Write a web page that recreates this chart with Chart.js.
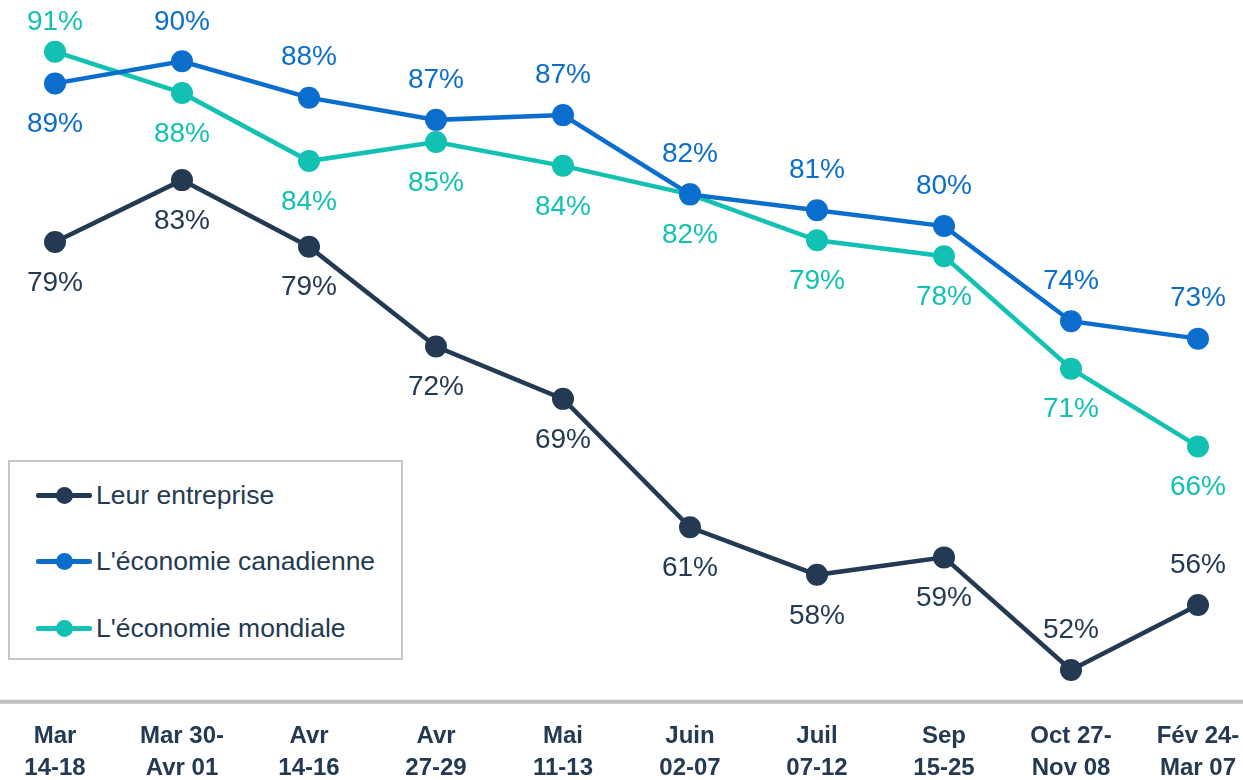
<!DOCTYPE html>
<html>
<head>
<meta charset="utf-8">
<script src="https://cdn.jsdelivr.net/npm/chart.js@4/dist/chart.umd.min.js"></script>
<style>
  body { margin: 0; overflow: hidden; background: #fff; }
  #wrap { position: relative; width: 1320px; height: 780px; overflow: hidden; }
  #legend {
    position: absolute; left: 8px; top: 460px; width: 391px; height: 196px;
    border: 2px solid #c6c6c6; background: #fff;
    font-family: "Liberation Sans", Arial, sans-serif; font-size: 26.5px; color: #233a52;
  }
  .item { position: absolute; left: 26px; height: 30px; display: flex; align-items: center; }
  .sym { position: relative; width: 56px; height: 30px; margin-right: 4px; }
  .sym .ln { position: absolute; left: 0; right: 0; top: 13px; height: 5px; border-radius: 2px; }
  .sym .dt { position: absolute; left: 20px; top: 7px; width: 17px; height: 17px; border-radius: 50%; }
</style>
</head>
<body>
<div id="wrap">
  <canvas id="chart" width="1320" height="803"></canvas>
  <div id="legend"></div>
</div>
<script>
// categories (two-line labels)
const categories = [
  ["Mar", "14-18"],
  ["Mar 30-", "Avr 01"],
  ["Avr", "14-16"],
  ["Avr", "27-29"],
  ["Mai", "11-13"],
  ["Juin", "02-07"],
  ["Juil", "07-12"],
  ["Sep", "15-25"],
  ["Oct 27-", "Nov 08"],
  ["Fév 24-", "Mar 07"],
];

const seriesNames = ["Leur entreprise", "L'économie canadienne", "L'économie mondiale"];

const leurEntreprise = [79.0, 82.9, 78.7, 72.4, 69.1, 61.0, 58.0, 59.1, 52.0, 56.1];
const economieCanadienne = [89.0, 90.4, 88.1, 86.7, 87.0, 82.0, 81.0, 80.0, 74.0, 72.9];
const economieMondiale = [91.0, 88.4, 84.1, 85.3, 83.8, 82.0, 79.1, 78.1, 71.0, 66.1];

// where each value label sits relative to its point
const sideLeur = ["below", "below", "below", "below", "below", "below", "below", "below", "above", "above"];
const sideCanadienne = ["below", "above", "above", "above", "above", "above", "above", "above", "above", "above"];
const sideMondiale = ["above", "below", "below", "below", "below", "below", "below", "below", "below", "below"];

const colors = ["#233a52", "#0b6dcc", "#12c1b2"];

const FONT = '"Liberation Sans", Arial, sans-serif';

// full-width grey baseline
const baseLine = {
  id: "baseLine",
  beforeDatasetsDraw(chart) {
    const c = chart.ctx;
    const y = chart.chartArea.bottom;
    c.save();
    c.strokeStyle = "#c0c0c0";
    c.lineWidth = 4;
    c.beginPath();
    c.moveTo(0, y);
    c.lineTo(chart.width, y);
    c.stroke();
    c.restore();
  },
};

// value labels above / below points
const valueLabels = {
  id: "valueLabels",
  afterDatasetsDraw(chart) {
    const c = chart.ctx;
    c.save();
    c.font = "28px " + FONT;
    c.textAlign = "center";
    c.textBaseline = "middle";
    chart.data.datasets.forEach((ds, i) => {
      const meta = chart.getDatasetMeta(i);
      c.fillStyle = ds.borderColor;
      meta.data.forEach((pt, j) => {
        const off = ds.sides[j] === "above" ? -40 : 41;
        const y = Math.max(22, pt.y + off);
        c.fillText(Math.round(ds.data[j]) + "%", pt.x, y);
      });
    });
    c.restore();
  },
};

const ctx = document.getElementById("chart").getContext("2d");

const allData = [leurEntreprise, economieCanadienne, economieMondiale];
const allSides = [sideLeur, sideCanadienne, sideMondiale];

const chart = new Chart(ctx, {
  type: "line",
  data: {
    labels: categories,
    datasets: allData.map((d, i) => ({
      label: seriesNames[i],
      data: d,
      sides: allSides[i],
      borderColor: colors[i],
      backgroundColor: colors[i],
      pointBackgroundColor: colors[i],
      pointBorderWidth: 0,
      pointRadius: 11,
      borderWidth: 4.5,
      tension: 0,
      clip: false,
    })),
  },
  options: {
    responsive: false,
    animation: false,
    layout: { padding: { left: 55, right: 122, top: 20, bottom: 0 } },
    plugins: {
      legend: { display: false },
      tooltip: { enabled: false },
    },
    scales: {
      x: {
        offset: false,
        grid: { display: false, drawTicks: false },
        border: { display: false },
        ticks: {
          padding: 19,
          color: "#233a52",
          maxRotation: 0,
          autoSkip: false,
          font: { family: FONT, size: 24, weight: "bold", lineHeight: 1.32 },
        },
      },
      y: {
        display: false,
        min: 50,
        max: 93,
      },
    },
  },
  plugins: [baseLine, valueLabels],
});

// legend box
const legend = document.getElementById("legend");
const rowTops = [18, 84, 151];
seriesNames.forEach((name, i) => {
  const item = document.createElement("div");
  item.className = "item";
  item.style.top = rowTops[i] + "px";
  item.innerHTML =
    '<span class="sym"><span class="ln" style="background:' + colors[i] + '"></span>' +
    '<span class="dt" style="background:' + colors[i] + '"></span></span>';
  const t = document.createElement("span");
  t.textContent = name;
  item.appendChild(t);
  legend.appendChild(item);
});
</script>
</body>
</html>
